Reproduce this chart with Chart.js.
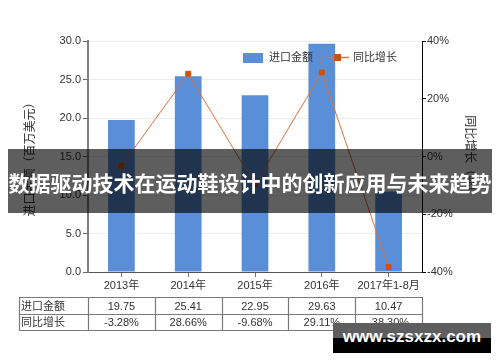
<!DOCTYPE html>
<html>
<head>
<meta charset="utf-8">
<script src="https://cdn.jsdelivr.net/npm/chart.js@4.4.1/dist/chart.umd.min.js"></script>
<style>
  body { margin: 0; background: #fff; }
  #wrap { position: relative; width: 500px; height: 362px; overflow: hidden; }
  #banner {
    position: absolute; left: 8px; top: 149px; width: 484px; height: 64px;
    background: rgba(0, 0, 0, 0.63); color: #fff;
    font: bold 21px 'Noto Sans CJK SC', sans-serif; line-height: 66px;
    text-align: center; white-space: nowrap;
  }
  #mark {
    position: absolute; left: 333px; top: 323px; width: 158px; height: 30px;
    background: linear-gradient(#5e5e5e 0, #5e5e5e 15px, #000 15px, #000 30px);
    color: #fff; font: bold 17px 'Liberation Sans', sans-serif;
    line-height: 28px; text-align: center; white-space: nowrap;
  }
</style>
</head>
<body>
<div id="wrap">
  <canvas id="myChart" width="500" height="362"></canvas>
  <div id="banner">数据驱动技术在运动鞋设计中的创新应用与未来趋势</div>
  <div id="mark">www.szsxzx.com</div>
</div>
<script>
var years = ['2013年', '2014年', '2015年', '2016年', '2017年1-8月'];
var importValues = [19.75, 25.41, 22.95, 29.63, 10.47];
var growthRates = [-3.28, 28.66, -9.68, 29.11, -38.30];
var leftTicks = [0, 5, 10, 15, 20, 25, 30];
var rightTicks = [-40, -20, 0, 20, 40];

var barColor = '#5a8ed6';
var lineColor = '#dd7038';
var pointColor = '#d1510c';

Chart.defaults.font.family = "'Liberation Sans', 'Noto Sans CJK SC', sans-serif";
Chart.defaults.font.size = 11;
Chart.defaults.color = '#333';

// legend and data table under the axis, drawn by hand
var extras = {
  id: 'extras',
  afterDraw: function(chart) {
    var ctx = chart.ctx;
    var area = chart.chartArea;
    var xs = chart.scales.x;
    var step = (area.right - area.left) / years.length;

    ctx.save();
    ctx.font = "11px 'Liberation Sans', 'Noto Sans CJK SC', sans-serif";
    ctx.textBaseline = 'middle';

    // legend
    ctx.fillStyle = barColor;
    ctx.fillRect(243, 53, 20, 10);
    ctx.fillStyle = '#333';
    ctx.textAlign = 'left';
    ctx.fillText('进口金额', 269, 58);
    ctx.strokeStyle = lineColor;
    ctx.lineWidth = 1.5;
    ctx.beginPath();
    ctx.moveTo(325, 57.5);
    ctx.lineTo(349, 57.5);
    ctx.stroke();
    ctx.fillStyle = pointColor;
    ctx.fillRect(334, 54, 7, 7);
    ctx.fillStyle = '#333';
    ctx.fillText('同比增长', 353, 58);

    // table
    var top = 297, mid = 314, bottom = 330, left = 19;
    ctx.strokeStyle = '#7a7a7a';
    ctx.lineWidth = 1.2;
    ctx.beginPath();
    [top, mid, bottom].forEach(function(y) {
      ctx.moveTo(left, y + 0.5);
      ctx.lineTo(area.right + 1, y + 0.5);
    });
    ctx.moveTo(left + 0.5, top);
    ctx.lineTo(left + 0.5, bottom + 1);
    for (var i = 0; i <= years.length; i++) {
      var bx = Math.round(area.left + i * step) + 0.5;
      ctx.moveTo(bx, top);
      ctx.lineTo(bx, bottom + 1);
    }
    ctx.stroke();

    ctx.textAlign = 'left';
    ctx.fillText('进口金额', left + 2, (top + mid) / 2 + 1);
    ctx.fillText('同比增长', left + 2, (mid + bottom) / 2 + 1);
    ctx.textAlign = 'center';
    years.forEach(function(y, i) {
      var cx = xs.getPixelForValue(i);
      ctx.fillText(importValues[i].toFixed(2), cx, (top + mid) / 2 + 1);
      ctx.fillText(growthRates[i].toFixed(2) + '%', cx, (mid + bottom) / 2 + 1);
    });
    ctx.restore();
  }
};

new Chart(document.getElementById('myChart'), {
  type: 'bar',
  data: {
    labels: years,
    datasets: [{
      type: 'line',
      label: '同比增长',
      data: growthRates,
      yAxisID: 'y1',
      borderColor: lineColor,
      borderWidth: 1,
      pointStyle: 'rect',
      pointRadius: 3.5,
      pointBackgroundColor: pointColor,
      pointBorderColor: pointColor,
      tension: 0,
      order: 0
    }, {
      label: '进口金额',
      data: importValues,
      yAxisID: 'y',
      backgroundColor: barColor,
      categoryPercentage: 1,
      barPercentage: 0.4,
      order: 1
    }]
  },
  options: {
    responsive: false,
    animation: false,
    layout: { padding: { left: 0, right: 0, top: 41, bottom: 65 } },
    plugins: { legend: { display: false }, tooltip: { enabled: false } },
    scales: {
      x: {
        grid: { offset: false, drawOnChartArea: false, tickLength: 5, tickColor: '#777' },
        border: { color: '#555', width: 1 },
        ticks: { padding: 2, maxRotation: 0, font: { size: 11 } },
        afterFit: function(s) { s.height = 25; }
      },
      y: {
        position: 'left',
        min: 0, max: 30,
        afterBuildTicks: function(s) { s.ticks = leftTicks.map(function(v) { return { value: v }; }); },
        ticks: { padding: 2, callback: function(v) { return v.toFixed(1); } },
        grid: { color: '#ececec', tickLength: 5, tickColor: '#666' },
        border: { color: '#808080', width: 2 },
        title: { display: true, text: '进口金额（百万美元）', font: { size: 12 }, padding: { top: 23 } },
        afterFit: function(s) { s.width = 88; }
      },
      y1: {
        position: 'right',
        min: -40, max: 40,
        afterBuildTicks: function(s) { s.ticks = rightTicks.map(function(v) { return { value: v }; }); },
        ticks: { padding: 1, callback: function(v) { return v + '%'; } },
        grid: { drawOnChartArea: false, tickLength: 4, tickColor: '#000' },
        border: { color: '#000', width: 1 },
        title: { display: true, text: '同比增长（%）', font: { size: 12 }, padding: { top: 23 } },
        afterFit: function(s) { s.width = 78; }
      }
    }
  },
  plugins: [extras]
});
</script>
</body>
</html>
